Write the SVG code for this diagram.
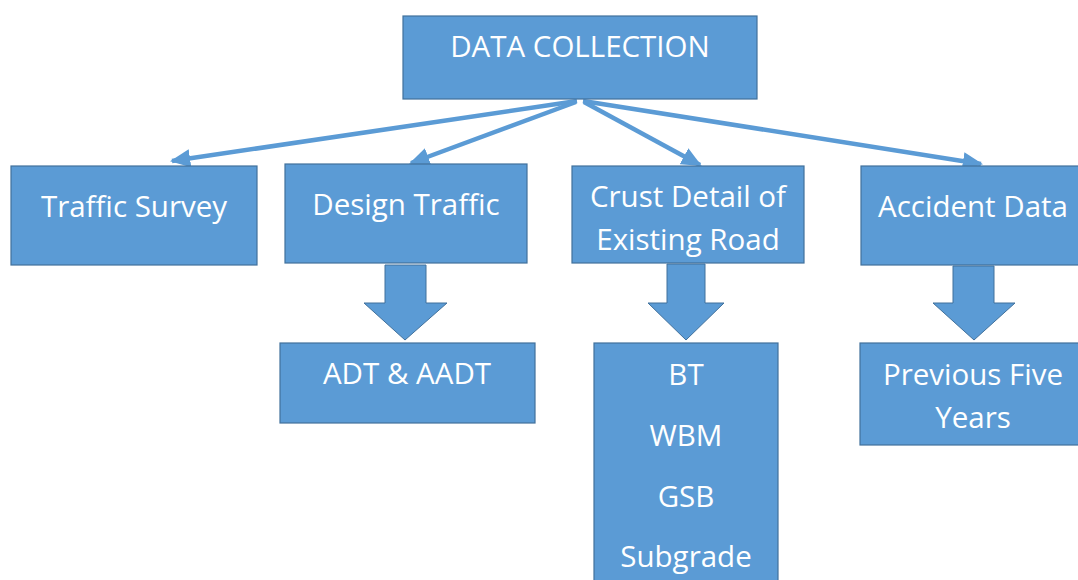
<svg xmlns="http://www.w3.org/2000/svg" width="1078" height="580" viewBox="0 0 1078 580">
<style>
.box{fill:#5B9BD5;stroke:#41719C;stroke-width:1.2}
.blk{fill:#5B9BD5;stroke:#41719C;stroke-width:1}
.t{font-family:"Open Sans","Liberation Sans",sans-serif;font-size:29.5px;fill:#fff;text-anchor:middle}
.c{stroke:#5B9BD5;stroke-width:4.5;fill:none}
</style>
<defs>
<marker id="ah" viewBox="0 0 10 10" refX="9" refY="5" markerWidth="4.5" markerHeight="4.5" orient="auto" markerUnits="strokeWidth">
<path d="M0,0.5 L10,5 L0,9.5 Z" fill="#5B9BD5"/>
</marker>
</defs>
<rect width="1078" height="580" fill="#fff"/>
<g id="connectors">
<line class="c" x1="577" y1="101" x2="172" y2="161" marker-end="url(#ah)"/>
<line class="c" x1="576" y1="102" x2="411" y2="163" marker-end="url(#ah)"/>
<line class="c" x1="584" y1="102" x2="700" y2="165" marker-end="url(#ah)"/>
<line class="c" x1="583" y1="101" x2="981" y2="164" marker-end="url(#ah)"/>
<polygon class="blk" points="385,265 426,265 426,303 447,303 405,340 364,303 385,303"/>
<polygon class="blk" points="667,264 705,264 705,303 724,303 686,340 648,303 667,303"/>
<polygon class="blk" points="953,266 994,266 994,303 1015,303 974,340 933,303 953,303"/>
</g>
<g id="data-collection">
<rect class="box" x="403" y="16" width="354" height="83"/>
<text class="t" x="580" y="57">DATA COLLECTION</text>
</g>
<g id="traffic-survey">
<rect class="box" x="11" y="166" width="246" height="99"/>
<text class="t" x="134" y="217">Traffic Survey</text>
</g>
<g id="design-traffic">
<rect class="box" x="285" y="164" width="242" height="99"/>
<text class="t" x="406" y="215">Design Traffic</text>
</g>
<g id="crust-detail">
<rect class="box" x="572" y="166" width="232" height="97"/>
<text class="t" x="688" y="207">Crust Detail of</text>
<text class="t" x="688" y="250">Existing Road</text>
</g>
<g id="accident-data">
<rect class="box" x="861" y="166" width="224" height="99"/>
<text class="t" x="973" y="217">Accident Data</text>
</g>
<g id="adt-aadt">
<rect class="box" x="280" y="343" width="255" height="80"/>
<text class="t" x="407" y="384">ADT &amp; AADT</text>
</g>
<g id="layers">
<rect class="box" x="594" y="343" width="184" height="245"/>
<text class="t" x="686" y="385">BT</text>
<text class="t" x="686" y="446">WBM</text>
<text class="t" x="686" y="507">GSB</text>
<text class="t" x="686" y="567">Subgrade</text>
</g>
<g id="previous-five-years">
<rect class="box" x="860" y="343" width="225" height="102"/>
<text class="t" x="973" y="385">Previous Five</text>
<text class="t" x="973" y="428">Years</text>
</g>
</svg>
